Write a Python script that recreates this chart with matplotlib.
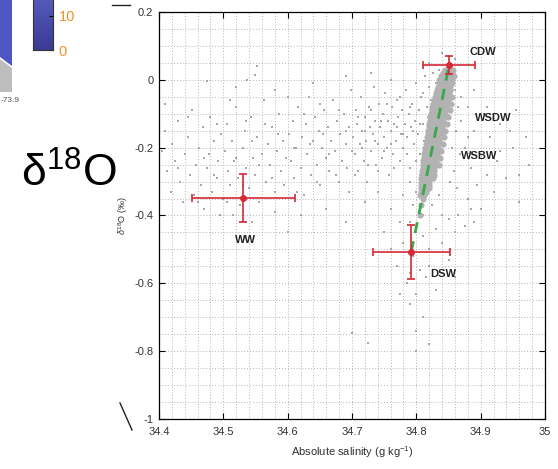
import matplotlib
matplotlib.use("Agg")
import matplotlib.pyplot as plt
import numpy as np
from matplotlib.ticker import MultipleLocator, FuncFormatter
from matplotlib.patches import Polygon

plt.rcParams['font.family'] = ['Liberation Sans', 'DejaVu Sans']
plt.rcParams['axes.unicode_minus'] = False
plt.rcParams['mathtext.fontset'] = 'custom'
plt.rcParams['mathtext.rm'] = 'Liberation Sans'
plt.rcParams['mathtext.it'] = 'Liberation Sans:italic'
plt.rcParams['mathtext.bf'] = 'Liberation Sans:bold'

####################### data #######################

# sparse cloud of samples (absolute salinity, d18O)
shelf_pts = [
    (34.405,-0.21),(34.41,-0.15),(34.412,-0.27),(34.418,-0.33),(34.42,-0.19),(34.425,-0.24),
    (34.43,-0.12),(34.432,-0.30),(34.437,-0.36),(34.44,-0.22),(34.445,-0.17),(34.448,-0.28),
    (34.452,-0.09),(34.455,-0.34),(34.458,-0.25),(34.462,-0.20),(34.465,-0.31),(34.468,-0.14),
    (34.47,-0.38),(34.474,-0.26),(34.477,-0.22),(34.48,-0.11),(34.483,-0.33),(34.486,-0.18),
    (34.49,-0.29),(34.492,-0.24),(34.495,-0.40),(34.497,-0.16),(34.50,-0.35),(34.475,-0.004),
    (34.537,0.0),(34.55,0.014),(34.553,0.04),
    (34.502,-0.21),(34.505,-0.13),(34.508,-0.27),(34.51,-0.31),(34.514,-0.18),(34.517,-0.24),
    (34.52,-0.08),(34.523,-0.29),(34.526,-0.37),(34.53,-0.20),(34.533,-0.15),(34.536,-0.26),
    (34.54,-0.32),(34.543,-0.11),(34.546,-0.23),(34.55,-0.28),(34.553,-0.17),(34.556,-0.36),
    (34.56,-0.22),(34.563,-0.06),(34.566,-0.30),(34.57,-0.19),(34.573,-0.25),(34.576,-0.14),
    (34.58,-0.33),(34.583,-0.21),(34.586,-0.10),(34.59,-0.27),(34.593,-0.18),(34.597,-0.23),
    (34.515,-0.40),(34.545,-0.42),(34.58,-0.39),(34.60,-0.45),
    (34.602,-0.16),(34.605,-0.24),(34.608,-0.12),(34.61,-0.29),(34.613,-0.20),(34.616,-0.08),
    (34.62,-0.26),(34.622,-0.17),(34.625,-0.34),(34.628,-0.13),(34.63,-0.22),(34.633,-0.05),
    (34.636,-0.28),(34.64,-0.18),(34.642,-0.11),(34.645,-0.25),(34.648,-0.15),(34.65,-0.31),
    (34.653,-0.20),(34.656,-0.09),(34.66,-0.23),(34.662,-0.14),(34.665,-0.27),(34.668,-0.18),
    (34.67,-0.06),(34.673,-0.21),(34.676,-0.12),(34.68,-0.30),(34.682,-0.16),(34.685,-0.24),
    (34.688,-0.10),(34.69,-0.19),(34.693,-0.26),(34.696,-0.14),(34.698,-0.03),
    (34.62,-0.40),(34.66,-0.38),(34.69,-0.42),
    (34.702,-0.17),(34.704,-0.22),(34.706,-0.09),(34.708,-0.13),(34.71,-0.27),(34.712,-0.19),
    (34.714,-0.05),(34.716,-0.15),(34.718,-0.24),(34.72,-0.11),(34.722,-0.18),(34.724,-0.30),
    (34.726,-0.08),(34.728,-0.14),(34.73,-0.21),(34.732,-0.16),(34.734,-0.02),(34.736,-0.12),
    (34.738,-0.25),(34.74,-0.19),(34.742,-0.07),(34.744,-0.14),(34.746,-0.23),(34.748,-0.10),
    (34.75,-0.17),(34.752,-0.04),(34.754,-0.20),(34.756,-0.12),(34.758,-0.28),(34.76,-0.15),
    (34.762,-0.08),(34.764,-0.22),(34.766,-0.13),(34.768,-0.18),(34.77,-0.06),(34.772,-0.11),
    (34.774,-0.24),(34.776,-0.16),(34.778,-0.09),(34.78,-0.20),(34.782,-0.13),(34.784,-0.03),
    (34.786,-0.17),(34.788,-0.10),(34.79,-0.26),(34.792,-0.14),(34.794,-0.07),(34.796,-0.19),
    (34.798,-0.12),(34.80,-0.01),(34.802,-0.16),(34.804,-0.09),(34.806,-0.22),(34.808,-0.05),
    (34.81,-0.13),(34.812,-0.18),(34.814,0.01),(34.816,-0.08),(34.818,-0.11),
    (34.72,-0.36),(34.74,-0.33),(34.76,-0.38),(34.78,-0.34),(34.775,-0.42),(34.75,-0.45),
    (34.78,-0.48),(34.795,-0.52),(34.81,-0.46),(34.82,-0.50),(34.83,-0.44),(34.805,-0.56),
    (34.785,-0.60),(34.80,-0.63),(34.815,-0.58),(34.84,-0.48),(34.85,-0.53),(34.86,-0.45),
    (34.77,-0.55),(34.76,-0.50),(34.79,-0.66),(34.81,-0.70),(34.80,-0.74),(34.83,-0.62),
    (34.865,-0.40),(34.875,-0.43),(34.885,-0.38),(34.89,-0.42),(34.80,-0.80),(34.82,-0.78),
    (34.70,-0.747),(34.725,-0.776),
    (34.87,-0.12),(34.875,-0.20),(34.88,-0.08),(34.885,-0.26),(34.89,-0.15),(34.895,-0.31),
    (34.90,-0.22),(34.905,-0.10),(34.91,-0.28),(34.915,-0.17),(34.92,-0.33),(34.925,-0.24),
    (34.93,-0.13),(34.94,-0.29),(34.95,-0.20),(34.96,-0.36),(34.975,-0.25),(34.88,-0.35),
    (34.90,-0.38),
    (34.41,-0.07),(34.43,-0.26),(34.445,-0.11),(34.46,-0.36),(34.47,-0.23),(34.485,-0.28),
    (34.49,-0.13),(34.505,-0.36),(34.51,-0.06),(34.52,-0.23),(34.53,-0.31),(34.535,-0.12),
    (34.545,-0.18),(34.555,-0.25),(34.565,-0.13),(34.575,-0.29),(34.585,-0.16),(34.595,-0.31),
    (34.60,-0.05),(34.61,-0.20),(34.615,-0.33),(34.625,-0.10),(34.635,-0.19),(34.645,-0.30),
    (34.65,-0.07),(34.655,-0.16),(34.665,-0.22),(34.675,-0.28),(34.68,-0.09),(34.69,-0.15),
    (34.695,-0.33),(34.70,-0.21),(34.705,-0.28),(34.71,-0.11),(34.715,-0.20),(34.72,-0.15),
    (34.725,-0.25),(34.73,-0.09),(34.735,-0.18),(34.74,-0.27),(34.745,-0.12),(34.75,-0.21),
    (34.755,-0.07),(34.76,-0.19),(34.765,-0.26),(34.77,-0.14),(34.775,-0.05),(34.78,-0.16),
    (34.785,-0.22),(34.79,-0.08),(34.795,-0.15),(34.80,-0.24),(34.805,-0.13),(34.81,-0.04),
    (34.815,-0.20),(34.82,-0.02),(34.823,-0.06),(34.826,0.02),(34.83,-0.01),(34.835,0.03),
    (34.86,-0.03),(34.865,-0.08),(34.862,-0.15),(34.868,-0.22),(34.858,-0.27),(34.863,-0.32),
    (34.855,-0.20),(34.852,-0.30),(34.805,-0.28),(34.80,-0.33),(34.79,-0.30),(34.795,-0.37),
    (34.81,-0.40),(34.825,-0.37),(34.84,-0.40),(34.835,-0.34),(34.79,-0.42),(34.82,-0.55),
    (34.79,-0.57),(34.775,-0.63),(34.86,-0.58),(34.85,-0.41),(34.87,-0.05),(34.88,-0.17),
    (34.89,-0.03),(34.91,-0.08),(34.93,-0.21),(34.945,-0.15),(34.955,-0.09),(34.97,-0.17),
    (34.96,-0.28),(34.86,0.06),(34.84,0.08),(34.82,0.05),(34.76,0.0),(34.73,0.02),
    (34.69,0.01),(34.64,-0.01),(34.58,-0.03),(34.52,-0.02),
]

# dense core of deep water samples: d18O level -> salinities at that level
core_rows = {
    0.03: [34.845, 34.851, 34.857],
    0.02: [34.842, 34.849, 34.855],
    0.01: [34.838, 34.846, 34.853, 34.859],
    0.00: [34.836, 34.843, 34.850, 34.856],
    -0.01: [34.835, 34.842, 34.848, 34.855],
    -0.02: [34.833, 34.840, 34.847, 34.853],
    -0.03: [34.832, 34.839, 34.845, 34.852],
    -0.04: [34.830, 34.837, 34.844, 34.851],
    -0.05: [34.829, 34.836, 34.843, 34.850, 34.856],
    -0.06: [34.828, 34.835, 34.842, 34.849],
    -0.07: [34.826, 34.833, 34.840, 34.847, 34.854],
    -0.08: [34.825, 34.832, 34.839, 34.846],
    -0.09: [34.824, 34.831, 34.838, 34.845, 34.852],
    -0.10: [34.823, 34.830, 34.837, 34.844],
    -0.11: [34.822, 34.829, 34.836, 34.843, 34.849],
    -0.12: [34.821, 34.828, 34.835, 34.842],
    -0.13: [34.820, 34.827, 34.834, 34.841, 34.847],
    -0.14: [34.819, 34.826, 34.833, 34.840],
    -0.15: [34.818, 34.825, 34.832, 34.839, 34.845],
    -0.16: [34.818, 34.824, 34.831, 34.838],
    -0.17: [34.817, 34.823, 34.830, 34.837, 34.843],
    -0.18: [34.816, 34.822, 34.829, 34.836],
    -0.19: [34.815, 34.821, 34.828, 34.835, 34.841],
    -0.20: [34.814, 34.820, 34.827, 34.834],
    -0.21: [34.813, 34.819, 34.826, 34.833, 34.839],
    -0.22: [34.812, 34.818, 34.825, 34.832],
    -0.23: [34.812, 34.818, 34.824, 34.831, 34.837],
    -0.24: [34.811, 34.817, 34.823, 34.830],
    -0.25: [34.810, 34.816, 34.822, 34.829, 34.835],
    -0.26: [34.810, 34.816, 34.822, 34.828],
    -0.27: [34.809, 34.815, 34.821, 34.827],
    -0.28: [34.809, 34.815, 34.821, 34.827],
    -0.29: [34.808, 34.814, 34.820, 34.826],
    -0.30: [34.808, 34.814, 34.820],
    -0.31: [34.807, 34.813, 34.819],
    -0.32: [34.807, 34.813, 34.819],
    -0.33: [34.808, 34.815],
    -0.34: [34.806, 34.812],
    -0.35: [34.810],
    -0.37: [34.808],
    -0.40: [34.805],
}

# water mass end members: mean and spread
mass_names = ['CDW', 'WW', 'DSW']
mass_sal = [34.851, 34.531, 34.792]
mass_d18o = [0.044, -0.349, -0.508]
mass_sal_err = [0.04, 0.08, 0.06]
mass_d18o_err = [0.027, 0.07, 0.08]

# mixing line DSW -> CDW
mix_sal = [34.792, 34.851]
mix_d18o = [-0.508, 0.044]

# labels for the water masses
label_text = ['CDW', 'WSDW', 'WSBW', 'WW', 'DSW']
label_sal = [34.904, 34.919, 34.898, 34.534, 34.842]
label_d18o = [0.082, -0.113, -0.225, -0.473, -0.573]

#########################################################################

W, H = 558, 469
fig = plt.figure(figsize=(W / 100, H / 100), dpi=100)

# overlay in pixel coordinates for the cut-off neighbours of the figure
ov = fig.add_axes([0, 0, 1, 1], zorder=-1)
ov.set_xlim(0, W)
ov.set_ylim(H, 0)
ov.axis('off')
ov.add_patch(Polygon([[0, 0], [12, 0], [12, 66], [0, 57]], closed=True,
                     facecolor='#4f55c4', edgecolor='none'))
ov.add_patch(Polygon([[0, 59], [12, 68], [12, 92], [0, 92]], closed=True,
                     facecolor='#bdbdbd', edgecolor='none'))
ov.text(1, 100, '-73.9', fontsize=6, color='#555555', va='center', ha='left')
ov.plot([112, 130], [5, 5], color='#222222', lw=1)
ov.plot([120, 132], [403, 430], color='#222222', lw=1)
ov.text(21, 187, r'δ$^{18}$O', fontsize=32, color='black', va='baseline', ha='left')

# colour bar fragment
cb = fig.add_axes([33 / W, 1 - 50 / H, 20 / W, 62 / H])
grad = np.linspace(0, 1, 100).reshape(-1, 1)
cb.imshow(grad, aspect='auto', origin='lower', extent=[0, 1, 0, 18.2],
          cmap=matplotlib.colors.LinearSegmentedColormap.from_list('b', ['#3c3b96', '#5a60c0']))
cb.set_ylim(0, 18.2)
cb.set_xticks([])
cb.yaxis.tick_right()
cb.set_yticks([0, 10])
cb.set_yticklabels(['0', '10'])
cb.tick_params(axis='y', direction='in', length=3, labelsize=10.5, labelcolor='#e8942e', pad=4)
for s in cb.spines.values():
    s.set_color('#333333')
    s.set_linewidth(0.8)

# main scatter axes
ax = fig.add_axes([159 / W, 1 - 419 / H, (545 - 159) / W, (419 - 12) / H])

shelf = np.array(shelf_pts)
core_d18o = np.concatenate([[k] * len(v) for k, v in core_rows.items()])
core_sal = np.concatenate([v for v in core_rows.values()])

ax.scatter(shelf[:, 0], shelf[:, 1], s=3.5, marker='s', color='#a8a8a8', linewidths=0, zorder=2)
ax.scatter(core_sal, core_d18o, s=20, marker='o', color='#b2b2b2', linewidths=0, zorder=2)

ax.plot(mix_sal, mix_d18o, color='#3aa84a', lw=2, dashes=(4, 3), zorder=3)

ax.errorbar(mass_sal, mass_d18o, xerr=mass_sal_err, yerr=mass_d18o_err, fmt='o',
            color='#d42a35', ecolor='#d42a35', elinewidth=1.2, capsize=3, capthick=1.2,
            markersize=4, zorder=4)

for t, x, y in zip(label_text, label_sal, label_d18o):
    ax.text(x, y, t, fontsize=8, fontweight='bold', color='#222222', ha='center', va='center', zorder=5)

ax.set_xlim(34.4, 35.0)
ax.set_ylim(-1.0, 0.2)
fmt = FuncFormatter(lambda v, p: '%g' % round(v, 6))
ax.xaxis.set_major_locator(MultipleLocator(0.1))
ax.xaxis.set_minor_locator(MultipleLocator(0.02))
ax.yaxis.set_major_locator(MultipleLocator(0.2))
ax.yaxis.set_minor_locator(MultipleLocator(0.05))
ax.xaxis.set_major_formatter(fmt)
ax.yaxis.set_major_formatter(fmt)
ax.grid(which='both', color='#b5b5b5', linestyle=(0, (1, 2)), linewidth=0.7)
ax.set_axisbelow(True)
ax.tick_params(which='major', direction='in', length=4, top=True, right=True,
               labelsize=8, labelcolor='#333333', width=0.8)
ax.tick_params(which='minor', length=0)
ax.tick_params(axis='x', pad=6)
ax.tick_params(axis='y', pad=4)
for s in ax.spines.values():
    s.set_linewidth(0.9)

ax.set_xlabel('Absolute salinity (g kg$^{-1}$)', fontsize=8, color='#333333', labelpad=5)
ax.set_ylabel(r'$\delta^{18}$O (‰)', fontsize=6.5, color='#333333', labelpad=3)

fig.savefig('out.png', dpi=100)
